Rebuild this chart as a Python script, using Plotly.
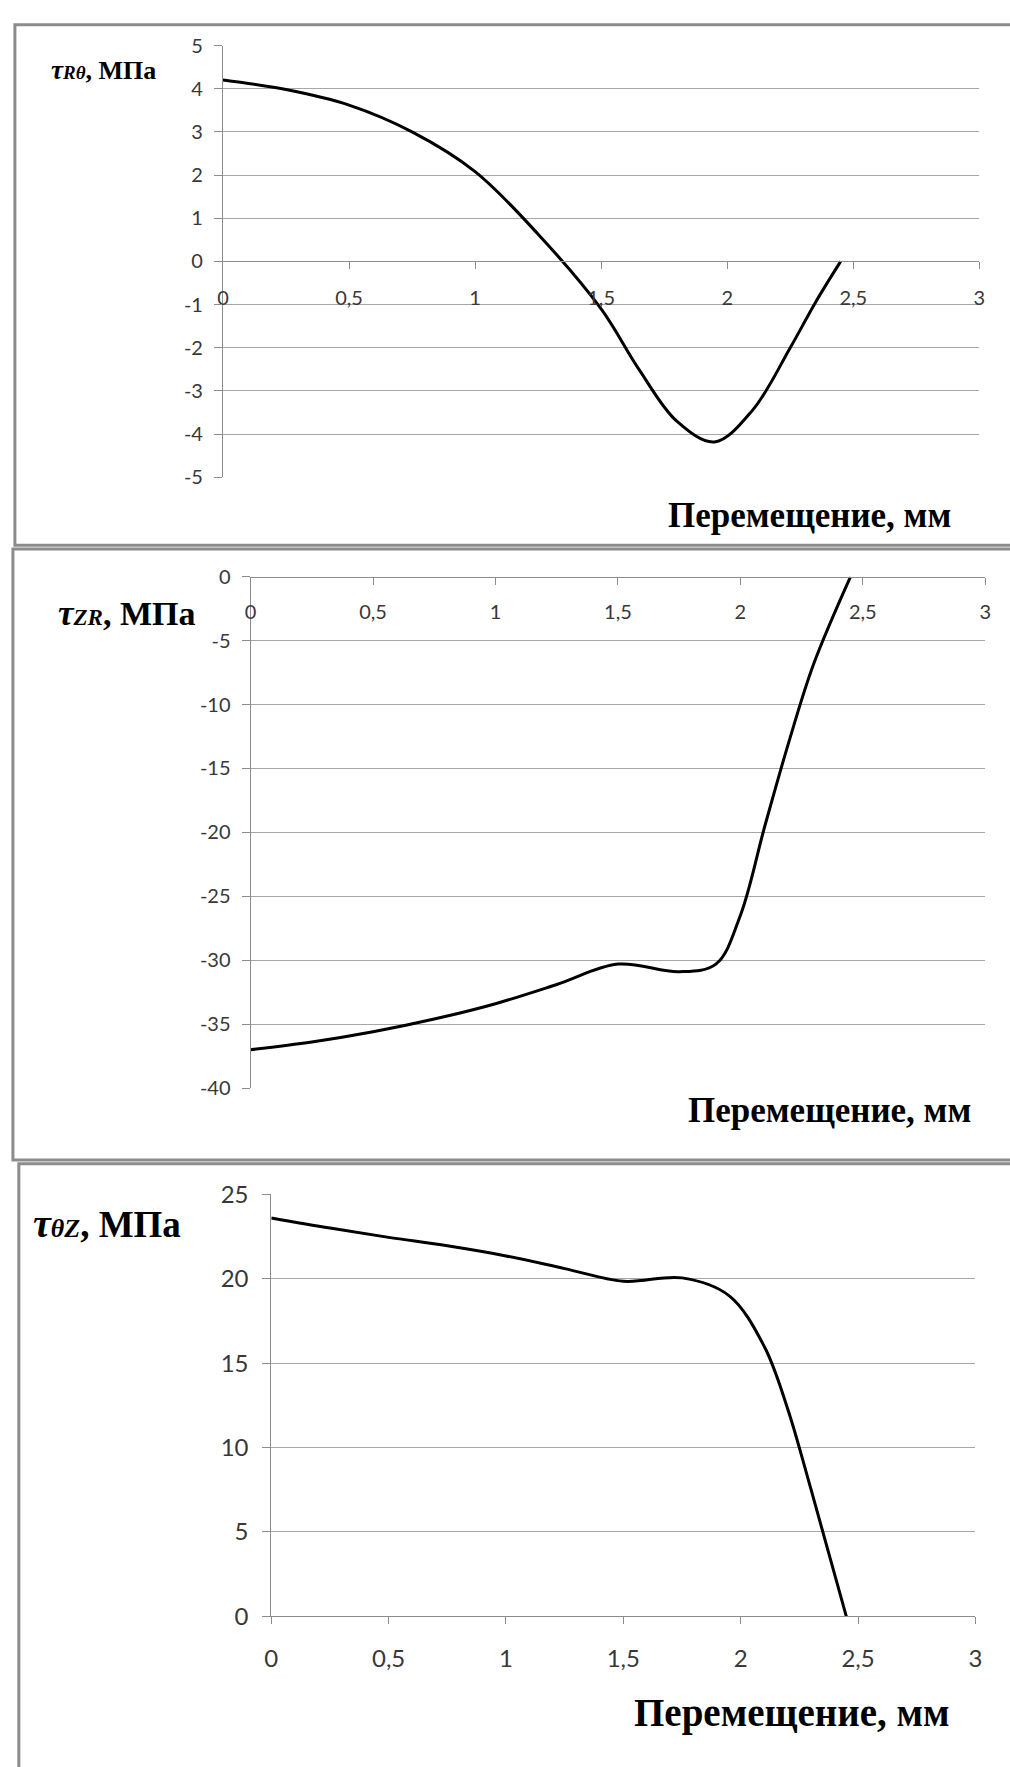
import plotly.graph_objects as go

W, H = 1010, 1767

# ---- data ----
x_rt = [0, 0.25, 0.5, 0.75, 1.0, 1.25, 1.5, 1.65, 1.8, 1.95, 2.1, 2.25, 2.35, 2.45]
y_rt = [4.2, 3.98, 3.62, 3.0, 2.08, 0.63, -1.1, -2.5, -3.7, -4.18, -3.45, -2.0, -0.95, 0.0]

x_zr = [0, 0.25, 0.5, 0.75, 1.0, 1.25, 1.5, 1.75, 1.9, 2.0, 2.1, 2.2, 2.3, 2.45]
y_zr = [-37.0, -36.4, -35.6, -34.6, -33.4, -31.9, -30.3, -30.9, -30.3, -26.5, -19.5, -12.8, -6.8, 0.0]

x_tz = [0, 0.25, 0.5, 0.75, 1.0, 1.25, 1.5, 1.75, 1.95, 2.1, 2.2, 2.3, 2.45]
y_tz = [23.6, 23.0, 22.45, 21.95, 21.35, 20.6, 19.85, 20.05, 19.0, 16.0, 12.3, 7.5, 0.0]

x_ticks = [0, 0.5, 1, 1.5, 2, 2.5, 3]
x_ticktext = ["0", "0,5", "1", "1,5", "2", "2,5", "3"]
y1_ticks = [-5, -4, -3, -2, -1, 0, 1, 2, 3, 4, 5]
y1_ticktext = ["-5", "-4", "-3", "-2", "-1", "0", "1", "2", "3", "4", "5"]
y2_ticks = [-40, -35, -30, -25, -20, -15, -10, -5, 0]
y2_ticktext = ["-40", "-35", "-30", "-25", "-20", "-15", "-10", "-5", "0"]
y3_ticks = [0, 5, 10, 15, 20, 25]
y3_ticktext = ["0", "5", "10", "15", "20", "25"]

x_title = "Перемещение, мм"
label1 = ("<b><i><span style='font-size:27px'>τ</span></i></b>"
          "<span style='font-size:19px'><b><i>Rθ</i></b></span><b>, МПа</b>")
label2 = ("<b><i><span style='font-size:35px'>τ</span></i></b>"
          "<span style='font-size:23px'><b><i>ZR</i></b></span><b>, МПа</b>")
label3 = ("<b><i><span style='font-size:40px'>τ</span></i></b>"
          "<span style='font-size:26px'><b><i>θZ</i></b></span><b>, МПа</b>")


def px(v):
    return v / W


def py(v):
    return 1 - v / H


GRID = "#a6a6a6"
AX = "#8c8c8c"
TXT = "#383838"
TICKFONT = "Lato"
SERIF = "Liberation Serif"

fig = go.Figure()
line = dict(color="black", width=3, shape="spline", smoothing=1.0)
fig.add_trace(go.Scatter(x=x_rt, y=y_rt, mode="lines", line=line, xaxis="x", yaxis="y", showlegend=False))
fig.add_trace(go.Scatter(x=x_zr, y=y_zr, mode="lines", line=line, xaxis="x2", yaxis="y2", showlegend=False))
fig.add_trace(go.Scatter(x=x_tz, y=y_tz, mode="lines", line=line, xaxis="x3", yaxis="y3", showlegend=False))


def xax(dom, anchor, pos, fs, standoff):
    d = dict(domain=dom, range=[0, 3], tickvals=x_ticks, ticktext=x_ticktext,
             showgrid=False, zeroline=False, showline=True, linecolor=AX, linewidth=1,
             ticks="outside", ticklen=7, tickcolor=AX, tickwidth=1,
             tickfont=dict(family=TICKFONT, size=fs, color=TXT), ticklabelstandoff=standoff,
             fixedrange=True)
    if anchor == "free":
        d.update(anchor="free", position=pos)
    else:
        d.update(anchor=anchor)
    return d


def yax(dom, anchor, rng, tv, tt, fs, standoff):
    return dict(domain=dom, anchor=anchor, range=rng, tickvals=tv, ticktext=tt,
                showgrid=True, gridcolor=GRID, gridwidth=1, zeroline=False,
                showline=True, linecolor=AX, linewidth=1,
                ticks="outside", ticklen=8, tickcolor=AX, tickwidth=1,
                tickfont=dict(family=TICKFONT, size=fs, color=TXT), ticklabelstandoff=standoff,
                fixedrange=True)


fig.update_layout(
    width=W, height=H,
    margin=dict(l=0, r=0, t=0, b=0),
    paper_bgcolor="white", plot_bgcolor="white",
    xaxis=xax([px(219), px(986)], "free", py(249), 20, 12),
    yaxis=yax([py(469), py(30)], "x", [-5, 5], y1_ticks, y1_ticktext, 20, 7),
    xaxis2=xax([px(247), px(992)], "free", py(570), 20, 10),
    yaxis2=yax([py(1090), py(570)], "x2", [-40, 0], y2_ticks, y2_ticktext, 20, 7),
    xaxis3=xax([px(268), px(982)], "y3", None, 24, 14),
    yaxis3=yax([py(1627), py(1198)], "x3", [0, 25], y3_ticks, y3_ticktext, 24, 9),
)

# frames around the three charts
frames = [(8, 9, 1040, 538), (6, 542, 1040, 1163), (12, 1167, 1040, 1800)]
for (x0, y0, x1, y1) in frames:
    fig.add_shape(type="rect", xref="paper", yref="paper",
                  x0=px(x0), x1=px(x1), y0=py(y0), y1=py(y1),
                  line=dict(color=AX, width=3), fillcolor="rgba(0,0,0,0)", layer="below")

# y-axis labels
fig.add_annotation(xref="paper", yref="paper", x=px(43), y=py(55), xanchor="left", yanchor="middle",
                   text=label1, showarrow=False, font=dict(family=SERIF, size=26, color="black"))
fig.add_annotation(xref="paper", yref="paper", x=px(50), y=py(607), xanchor="left", yanchor="middle",
                   text=label2, showarrow=False, font=dict(family=SERIF, size=34, color="black"))
fig.add_annotation(xref="paper", yref="paper", x=px(24), y=py(1228), xanchor="left", yanchor="middle",
                   text=label3, showarrow=False, font=dict(family=SERIF, size=37, color="black"))

# x-axis titles
for (xr, yc, fs) in [(959, 508, 35), (980, 1113, 35), (958, 1725, 39)]:
    fig.add_annotation(xref="paper", yref="paper", x=px(xr), y=py(yc), xanchor="right", yanchor="middle",
                       text="<b>" + x_title + "</b>", showarrow=False,
                       font=dict(family=SERIF, size=fs, color="black"))

fig.write_html("out.html", config={"displayModeBar": False},
               post_script="document.body.style.margin='0';")
